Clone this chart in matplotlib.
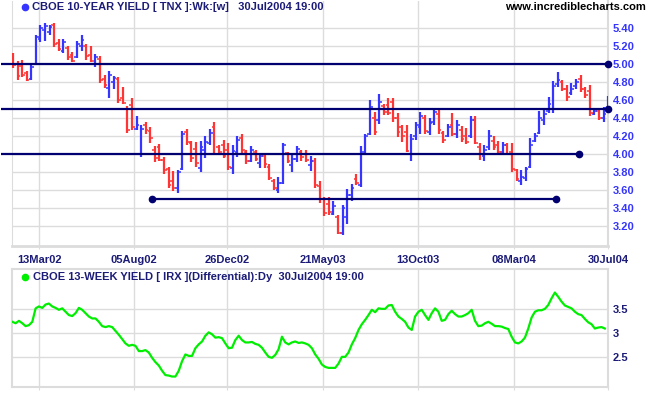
import matplotlib
matplotlib.use("Agg")
import matplotlib.pyplot as plt
import matplotlib.dates as mdates
import numpy as np
import pandas as pd

# weekly CBOE 10-year yield (TNX) bars, one per Friday
week_start = "2002-02-01"
tnx_open = [5.10, 5.00, 4.98, 4.90, 4.84, 5.00, 5.28, 5.38, 5.36, 5.44,
            5.24, 5.15, 5.18, 5.10, 5.08, 5.20, 5.20, 5.10, 5.00, 5.06,
            4.84, 4.74, 4.80, 4.84, 4.62, 4.50, 4.55, 4.28, 4.00, 4.32,
            4.26, 4.05, 4.08, 3.94, 3.84, 3.70, 3.62, 3.84, 4.25, 4.12,
            4.06, 3.85, 4.05, 4.12, 4.30, 4.08, 4.10, 4.05, 3.85, 4.02,
            4.18, 4.02, 3.93, 4.03, 3.90, 3.98, 3.86, 3.70, 3.60, 3.68,
            4.01, 3.88, 3.95, 4.02, 4.00, 3.88, 3.92, 3.65, 3.50, 3.45,
            3.34, 3.30, 3.12, 3.30, 3.55, 3.72, 3.66, 4.00, 4.22, 4.40,
            4.38, 4.54, 4.55, 4.58, 4.40, 4.30, 4.25, 4.00, 4.20, 4.30,
            4.40, 4.25, 4.36, 4.45, 4.24, 4.20, 4.32, 4.22, 4.27, 4.20,
            4.20, 4.38, 4.08, 3.98, 4.08, 4.15, 4.10, 4.02, 4.10, 4.02,
            3.82, 3.70, 3.74, 3.86, 4.15, 4.24, 4.38, 4.48, 4.50, 4.78,
            4.80, 4.72, 4.68, 4.76, 4.84, 4.72, 4.70, 4.45, 4.48, 4.40,
            4.49]
tnx_high = [5.12, 5.04, 5.05, 4.92, 4.99, 5.33, 5.44, 5.46, 5.44, 5.46,
            5.28, 5.28, 5.20, 5.14, 5.26, 5.33, 5.22, 5.20, 5.11, 5.09,
            4.88, 4.92, 4.87, 4.86, 4.75, 4.54, 4.62, 4.43, 4.33, 4.36,
            4.30, 4.09, 4.11, 3.97, 3.86, 3.81, 3.83, 4.26, 4.28, 4.15,
            4.14, 4.15, 4.20, 4.28, 4.36, 4.10, 4.16, 4.12, 4.10, 4.20,
            4.22, 4.05, 4.09, 4.05, 4.01, 4.00, 3.89, 3.73, 3.75, 4.13,
            4.03, 4.00, 4.09, 4.05, 4.05, 3.98, 3.96, 3.70, 3.52, 3.52,
            3.48, 3.33, 3.44, 3.61, 3.67, 3.78, 4.09, 4.23, 4.60, 4.47,
            4.67, 4.56, 4.62, 4.63, 4.46, 4.33, 4.33, 4.23, 4.36, 4.47,
            4.44, 4.40, 4.50, 4.49, 4.26, 4.34, 4.46, 4.38, 4.31, 4.29,
            4.42, 4.42, 4.12, 4.10, 4.27, 4.20, 4.15, 4.14, 4.13, 4.12,
            3.84, 3.83, 3.86, 4.18, 4.24, 4.48, 4.49, 4.64, 4.81, 4.91,
            4.82, 4.77, 4.79, 4.84, 4.88, 4.75, 4.77, 4.51, 4.51, 4.52,
            4.65]
tnx_low = [4.96, 4.82, 4.86, 4.81, 4.83, 4.99, 5.25, 5.26, 5.32, 5.19,
           5.15, 5.13, 5.05, 5.03, 5.07, 5.15, 5.05, 5.02, 4.97, 4.79,
           4.74, 4.63, 4.72, 4.57, 4.56, 4.24, 4.27, 4.27, 3.97, 4.23,
           4.13, 3.91, 3.92, 3.78, 3.62, 3.59, 3.57, 3.83, 4.10, 3.91,
           3.86, 3.80, 3.96, 4.10, 3.99, 3.99, 3.96, 3.83, 3.78, 3.97,
           4.01, 3.89, 3.91, 3.92, 3.85, 3.85, 3.71, 3.60, 3.57, 3.67,
           3.90, 3.80, 3.91, 3.92, 3.91, 3.81, 3.63, 3.46, 3.31, 3.33,
           3.32, 3.11, 3.10, 3.23, 3.48, 3.66, 3.64, 3.99, 4.21, 4.21,
           4.34, 4.44, 4.44, 4.36, 4.19, 4.14, 4.02, 3.93, 4.16, 4.22,
           4.22, 4.21, 4.33, 4.23, 4.13, 4.19, 4.20, 4.18, 4.14, 4.11,
           4.18, 4.11, 3.94, 3.93, 4.05, 4.05, 4.00, 3.99, 3.99, 3.80,
           3.70, 3.66, 3.70, 3.85, 4.14, 4.23, 4.33, 4.46, 4.46, 4.75,
           4.70, 4.59, 4.66, 4.73, 4.69, 4.63, 4.42, 4.44, 4.38, 4.36,
           4.47]
tnx_close = [4.99, 4.87, 4.88, 4.82, 4.97, 5.30, 5.40, 5.42, 5.41, 5.22,
             5.17, 5.25, 5.08, 5.04, 5.22, 5.27, 5.09, 5.04, 5.08, 4.83,
             4.77, 4.88, 4.85, 4.60, 4.57, 4.27, 4.30, 4.33, 4.28, 4.27,
             4.18, 3.96, 3.94, 3.82, 3.66, 3.63, 3.80, 4.22, 4.14, 3.96,
             3.90, 4.08, 4.14, 4.24, 4.00, 4.02, 3.98, 3.86, 4.04, 4.16,
             4.05, 3.92, 4.05, 3.95, 3.98, 3.89, 3.74, 3.62, 3.68, 4.10,
             3.93, 3.95, 4.06, 3.97, 3.94, 3.93, 3.66, 3.50, 3.35, 3.36,
             3.42, 3.13, 3.40, 3.55, 3.63, 3.68, 4.02, 4.20, 4.52, 4.25,
             4.58, 4.47, 4.46, 4.40, 4.25, 4.20, 4.04, 4.17, 4.33, 4.42,
             4.26, 4.35, 4.47, 4.27, 4.16, 4.30, 4.23, 4.33, 4.17, 4.14,
             4.38, 4.13, 4.00, 4.05, 4.20, 4.08, 4.02, 4.10, 4.00, 3.84,
             3.72, 3.75, 3.84, 4.10, 4.20, 4.40, 4.45, 4.56, 4.76, 4.82,
             4.73, 4.64, 4.72, 4.80, 4.72, 4.66, 4.46, 4.48, 4.40, 4.45,
             4.50]

# CBOE 13-week yield (IRX), read at even steps along the lower panel
irx_start = "2002-01-31"
irx_end = "2004-07-25"
irx = [3.24, 3.21, 3.26, 3.21, 3.15, 3.17, 3.24, 3.52, 3.56, 3.53,
       3.60, 3.62, 3.56, 3.53, 3.49, 3.52, 3.45, 3.38, 3.36, 3.42,
       3.53, 3.49, 3.42, 3.35, 3.31, 3.31, 3.24, 3.15, 3.13, 3.15,
       3.13, 3.05, 2.97, 2.88, 2.79, 2.74, 2.76, 2.74, 2.63, 2.63,
       2.65, 2.60, 2.49, 2.40, 2.33, 2.22, 2.13, 2.12, 2.10, 2.10,
       2.22, 2.42, 2.56, 2.53, 2.53, 2.69, 2.77, 2.83, 2.95, 3.02,
       2.98, 2.91, 2.92,
       2.90, 2.79, 2.69, 2.70, 2.86, 2.95, 2.86, 2.81, 2.81, 2.82,
       2.78, 2.76, 2.70, 2.60, 2.51, 2.49, 2.55, 2.67, 2.93, 2.81,
       2.77, 2.81, 2.83, 2.80, 2.81, 2.79, 2.76, 2.69, 2.56, 2.47,
       2.35, 2.30, 2.28, 2.28, 2.28, 2.37, 2.51, 2.51, 2.60, 2.77,
       2.90, 3.07, 3.19, 3.28, 3.38, 3.49, 3.44, 3.52, 3.51, 3.51,
       3.58, 3.59, 3.45, 3.35, 3.30, 3.24, 3.12, 3.07, 3.35, 3.45,
       3.49, 3.38, 3.28, 3.42, 3.52, 3.45, 3.26, 3.28, 3.40, 3.47,
       3.40, 3.35, 3.35, 3.38, 3.42, 3.49, 3.26, 3.15, 3.16, 3.21,
       3.24, 3.20, 3.15, 3.15, 3.14, 3.11, 3.09, 2.93, 2.81, 2.79,
       2.83, 2.91, 3.10, 3.33, 3.45, 3.48, 3.48, 3.51, 3.59, 3.73,
       3.85, 3.76, 3.66, 3.58, 3.55, 3.52, 3.45, 3.40, 3.38, 3.30,
       3.23, 3.19, 3.10, 3.12, 3.13, 3.10]

# horizontal support / resistance lines
level_values = [5.00, 4.50, 4.00, 3.50]
level_start = ["2002-01-14", "2002-01-14", "2002-01-14", "2002-09-02"]
level_end = ["2004-07-30", "2004-07-30", "2004-06-15", "2004-05-12"]

tick_dates = ["2002-03-13", "2002-08-05", "2002-12-26", "2003-05-21",
              "2003-10-13", "2004-03-08", "2004-07-30"]
tick_labels = ["13Mar02", "05Aug02", "26Dec02", "21May03",
               "13Oct03", "08Mar04", "30Jul04"]
tnx_ticks = [3.2, 3.4, 3.6, 3.8, 4.0, 4.2, 4.4, 4.6, 4.8, 5.0, 5.2, 5.4]
irx_ticks = [2.5, 3.0, 3.5]
irx_tick_labels = ["2.5", "3", "3.5"]

plt.rcParams["font.family"] = ["Liberation Sans", "DejaVu Sans"]
plt.rcParams["font.weight"] = "bold"
plt.rcParams["font.size"] = 8

navy = "#1c1c78"
up_col = "#3535ff"
down_col = "#ff3535"
grid_col = "#dcdcdc"

fig = plt.figure(figsize=(6.51, 3.95), dpi=100)
W, H = 651.0, 395.0
ax1 = fig.add_axes([12.3 / W, 1 - 245.7 / H, (608.3 - 12.3) / W, 244.7 / H])
ax2 = fig.add_axes([12.3 / W, 1 - 386.7 / H, (608.3 - 12.3) / W, 117.7 / H])

x_left = mdates.date2num(pd.Timestamp("2002-01-31"))
x_right = mdates.date2num(pd.Timestamp("2004-07-30")) + 0.3
tick_x = mdates.date2num(pd.to_datetime(tick_dates))

# --- top panel: weekly OHLC bars
weeks = mdates.date2num(pd.date_range(week_start, periods=len(tnx_close), freq="7D"))
o = np.array(tnx_open)
c = np.array(tnx_close)
cols = [up_col if cc >= oo else down_col for oo, cc in zip(o, c)]
ax1.vlines(weeks, tnx_low, tnx_high, colors=cols, lw=1.6, zorder=3)
ax1.hlines(o, weeks - 4.2, weeks, colors=cols, lw=1.1, zorder=3)
ax1.hlines(c, weeks, weeks + 4.2, colors=cols, lw=1.1, zorder=3)

for v, s, e in zip(level_values, level_start, level_end):
    xs = mdates.date2num(pd.Timestamp(s))
    xe = mdates.date2num(pd.Timestamp(e))
    ax1.plot([xs, xe], [v, v], color="#000070", lw=1.6, clip_on=False,
             solid_capstyle="butt", zorder=4)
    ax1.plot(xe, v, "o", color="#000070", ms=4.5, clip_on=False, zorder=4)
    if xs > x_left:
        ax1.plot(xs, v, "o", color="#000070", ms=4.5, zorder=4)

ax1.set_xlim(x_left, x_right)
ax1.set_ylim(2.984, 5.703)
ax1.set_yticks(tnx_ticks)
ax1.set_yticklabels([f"{t:.2f}" for t in tnx_ticks], color=up_col, fontweight="bold")
ax1.yaxis.tick_right()
ax1.tick_params(axis="y", length=0, pad=3.2)
ax1.set_xticks(tick_x)
ax1.set_xticklabels(tick_labels, color=navy, fontweight="bold")
ax1.tick_params(axis="x", length=2, color=grid_col, pad=4.5)
ax1.grid(True, color=grid_col, lw=1.0, zorder=0)
ax1.set_axisbelow(True)
ax1.spines["top"].set_visible(False)
ax1.spines["left"].set_color(grid_col)
ax1.spines["right"].set_color(grid_col)
ax1.spines["right"].set_linewidth(1.5)
ax1.spines["bottom"].set_color(grid_col)
ax1.spines["bottom"].set_linewidth(2.0)

# --- bottom panel: daily IRX line
irx_x = mdates.date2num(pd.date_range(irx_start, irx_end, periods=len(irx)))
ax2.plot(irx_x, irx, color="#00ee00", lw=1.6, zorder=3)
ax2.set_xlim(x_left, x_right)
ax2.set_ylim(1.888, 4.34)
ax2.set_yticks(irx_ticks)
ax2.set_yticklabels(irx_tick_labels, color=navy, fontweight="bold")
ax2.yaxis.tick_right()
ax2.tick_params(axis="y", length=0, pad=3.2)
ax2.set_xticks(tick_x)
ax2.set_xticklabels([])
ax2.tick_params(axis="x", length=2, color=grid_col)
ax2.grid(True, color=grid_col, lw=1.0, zorder=0)
ax2.set_axisbelow(True)
for side in ["top", "bottom", "left", "right"]:
    ax2.spines[side].set_color(grid_col)
    ax2.spines[side].set_linewidth(1.5)

# --- titles
fig.text(32 / W, 1 - 7.5 / H, "CBOE 10-YEAR YIELD [ TNX ]:Wk:[w]   30Jul2004 19:00",
         color=navy, fontweight="bold", fontsize=8, va="center", ha="left")
fig.text(646 / W, 1 - 7.5 / H, "www.incrediblecharts.com",
         color="black", fontweight="bold", fontsize=8, va="center", ha="right")
fig.text(33 / W, 1 - 277 / H, "CBOE 13-WEEK YIELD [ IRX ](Differential):Dy  30Jul2004 19:00",
         color=navy, fontweight="bold", fontsize=8, va="center", ha="left")
fig.lines.append(plt.Line2D([25 / W], [1 - 7 / H], marker="o", color=up_col, ms=4.5,
                            transform=fig.transFigure))
fig.lines.append(plt.Line2D([25 / W], [1 - 276.7 / H], marker="o", color="#00ee00", ms=4.5,
                            transform=fig.transFigure))

fig.savefig("out.png", dpi=100)
